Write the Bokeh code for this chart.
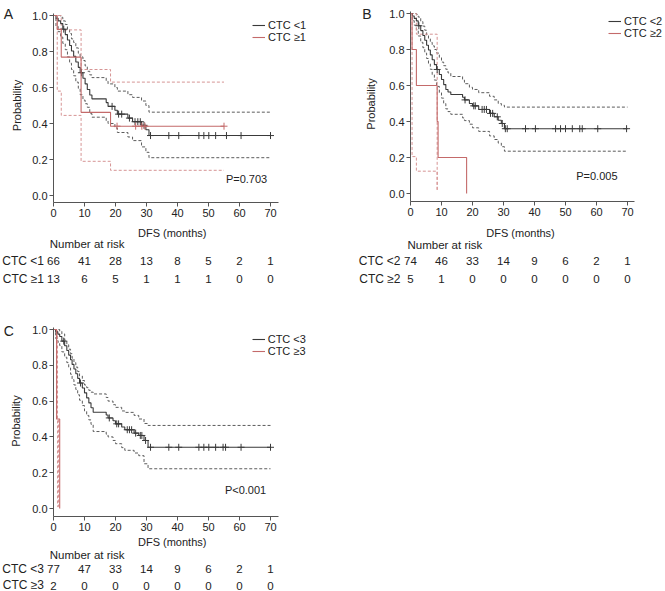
import math
import numpy as np
from bokeh.plotting import figure
from bokeh.models import Range1d, FixedTicker, PrintfTickFormatter, Label, Legend, LegendItem
from bokeh.layouts import column, row
from bokeh.embed import file_html
from bokeh.resources import INLINE
from bokeh.core.properties import value

FONT = "Liberation Sans"
BLACK = "#3a3a3a"
BLACK_CI = "#5c5c5c"
RED = "#c46a6a"
RED_CI = "#d69494"
AXIS = "#555555"
TEXT = "#222222"

MONTH_TICKS = [0, 10, 20, 30, 40, 50, 60, 70]
PROB_TICKS = [0.0, 0.2, 0.4, 0.6, 0.8, 1.0]

# ---------------- Panel A : CTC <1 vs CTC >=1 ----------------
A_lo_t = [0, 0.8, 1.5, 2.3, 3.0, 3.8, 4.5, 5.2, 5.8, 6.5, 7.2, 8.0, 8.6, 9.5, 10.2, 10.9,
          11.7, 12.4, 17.0, 17.6, 19.8, 20.6, 24.0, 25.5, 28.4, 29.8, 30.8]
A_lo_s = [1.0, 0.985, 0.97, 0.955, 0.924, 0.894, 0.864, 0.833, 0.803, 0.773, 0.742, 0.712,
          0.682, 0.651, 0.62, 0.589, 0.558, 0.537, 0.516, 0.495, 0.474, 0.452, 0.43, 0.41,
          0.39, 0.365, 0.333]
A_lo_upper = [1.0, 1.0, 1.0, 0.99, 0.97, 0.95, 0.92, 0.90, 0.87, 0.85, 0.82, 0.79, 0.77, 0.75,
              0.72, 0.69, 0.67, 0.655, 0.635, 0.62, 0.60, 0.58, 0.56, 0.545, 0.525, 0.50, 0.463]
A_lo_lower = [1.0, 0.94, 0.91, 0.88, 0.845, 0.81, 0.77, 0.735, 0.70, 0.665, 0.63, 0.595, 0.56,
              0.53, 0.51, 0.49, 0.455, 0.435, 0.415, 0.40, 0.375, 0.35, 0.325, 0.305, 0.27,
              0.24, 0.21]
A_lo_censor = [3.3, 9.0, 18.9, 21.0, 22.0, 24.5, 26.3, 27.2, 28.0, 29.2, 31.3, 37.2, 40.4,
               46.9, 48.5, 50.1, 52.3, 55.8, 60.5, 70.0]
A_lo_end = 70

A_hi_t = [0, 1.2, 2.5, 8.9, 18.4]
A_hi_s = [1.0, 0.923, 0.769, 0.462, 0.385]
A_hi_upper_t = [0, 2.5, 8.9, 18.4]
A_hi_upper = [1.0, 0.92, 0.70, 0.63]
A_hi_lower_t = [0, 1.2, 2.5, 8.9, 18.4]
A_hi_lower = [1.0, 0.58, 0.445, 0.19, 0.14]
A_hi_censor = [20.5, 26.5, 28.5, 29.5, 55.0]
A_hi_end = 55

A_groups = ["CTC <1", "CTC \u22651"]
A_risk_lo = [66, 41, 28, 13, 8, 5, 2, 1]
A_risk_hi = [13, 6, 5, 1, 1, 1, 0, 0]
A_p = "P=0.703"

# ---------------- Panel B : CTC <2 vs CTC >=2 ----------------
B_lo_t = [0, 0.6, 1.2, 1.9, 2.5, 3.3, 4.0, 4.6, 5.2, 5.8, 6.4, 7.0, 7.7, 8.4, 9.3, 10.0, 10.7,
          11.4, 12.1, 13.0, 16.8, 17.4, 19.0, 20.0, 22.0, 25.5, 27.0, 28.3, 29.3, 30.3]
B_lo_s = [1.0, 0.986, 0.973, 0.959, 0.932, 0.905, 0.878, 0.851, 0.824, 0.797, 0.77, 0.743,
          0.716, 0.689, 0.661, 0.633, 0.605, 0.578, 0.564, 0.55, 0.535, 0.52, 0.50, 0.487,
          0.467, 0.445, 0.426, 0.407, 0.389, 0.36]
B_lo_upper = [1.0, 1.0, 1.0, 0.995, 0.98, 0.955, 0.93, 0.907, 0.88, 0.86, 0.84, 0.82, 0.80,
              0.78, 0.755, 0.73, 0.71, 0.69, 0.67, 0.65, 0.63, 0.61, 0.59, 0.578, 0.56, 0.54,
              0.52, 0.50, 0.49, 0.48]
B_lo_lower = [1.0, 0.96, 0.935, 0.91, 0.875, 0.84, 0.81, 0.78, 0.75, 0.72, 0.69, 0.66, 0.63,
              0.595, 0.56, 0.53, 0.50, 0.47, 0.455, 0.44, 0.42, 0.405, 0.385, 0.365, 0.345,
              0.32, 0.30, 0.28, 0.26, 0.235]
B_lo_censor = [2.7, 8.6, 17.6, 20.4, 20.9, 23.1, 23.8, 24.5, 25.8, 26.5, 28.0, 29.6, 30.6,
               31.2, 37.1, 40.3, 46.8, 48.4, 50.0, 52.2, 54.6, 55.4, 60.4, 69.7]
B_lo_end = 70

B_hi_t = [0, 0.5, 1.9, 8.6, 8.9, 18.1]
B_hi_s = [1.0, 0.8, 0.6, 0.4, 0.2, 0.0]
B_hi_upper_t = [0, 1.9, 8.6]
B_hi_upper = [1.0, 0.885, 0.01]
B_hi_lower_t = [0, 0.5, 1.9, 8.6]
B_hi_lower = [1.0, 0.205, 0.124, 0.01]
B_hi_censor = []
B_hi_end = 18.1
B_hi_ci_end = 8.6

B_groups = ["CTC <2", "CTC \u22652"]
B_risk_lo = [74, 46, 33, 14, 9, 6, 2, 1]
B_risk_hi = [5, 1, 0, 0, 0, 0, 0, 0]
B_p = "P=0.005"

# ---------------- Panel C : CTC <3 vs CTC >=3 ----------------
C_lo_t = [0, 0.7, 1.4, 2.0, 2.7, 3.6, 4.3, 4.9, 5.5, 6.0, 6.6, 7.2, 7.8, 8.4, 9.3, 10.0, 10.7,
          11.4, 12.1, 12.8, 17.0, 17.6, 19.2, 20.0, 22.0, 23.0, 26.0, 27.5, 29.2, 30.5]
C_lo_s = [1.0, 0.987, 0.974, 0.961, 0.935, 0.909, 0.883, 0.857, 0.831, 0.805, 0.779, 0.753,
          0.727, 0.701, 0.673, 0.646, 0.618, 0.59, 0.563, 0.538, 0.522, 0.506, 0.49, 0.473,
          0.455, 0.44, 0.421, 0.408, 0.38, 0.342]
C_lo_upper = [1.0, 1.0, 1.0, 0.99, 0.975, 0.94, 0.915, 0.89, 0.865, 0.84, 0.815, 0.79, 0.765,
              0.74, 0.715, 0.69, 0.675, 0.66, 0.65, 0.64, 0.62, 0.60, 0.58, 0.565, 0.545,
              0.537, 0.52, 0.50, 0.475, 0.464]
C_lo_lower = [1.0, 0.95, 0.93, 0.91, 0.875, 0.845, 0.815, 0.785, 0.75, 0.72, 0.69, 0.665,
              0.635, 0.605, 0.575, 0.545, 0.52, 0.495, 0.47, 0.43, 0.415, 0.40, 0.38, 0.362,
              0.34, 0.325, 0.31, 0.295, 0.25, 0.222]
C_lo_censor = [3.3, 8.7, 18.0, 20.4, 21.0, 23.8, 24.5, 25.2, 26.5, 28.0, 28.5, 29.7, 31.3,
               37.2, 40.4, 46.9, 48.5, 50.1, 52.3, 54.7, 55.5, 60.5, 70.0]
C_lo_end = 70

C_hi_t = [0, 1.0, 2.0]
C_hi_s = [1.0, 0.5, 0.0]
C_hi_upper_t = [0, 1.0, 1.6]
C_hi_upper = [1.0, 0.5, 0.01]
C_hi_lower_t = [0, 1.3]
C_hi_lower = [1.0, 0.01]
C_hi_censor = []
C_hi_end = 2.0
C_hi_ci_end = 1.6

C_groups = ["CTC <3", "CTC \u22653"]
C_risk_lo = [77, 47, 33, 14, 9, 6, 2, 1]
C_risk_hi = [2, 0, 0, 0, 0, 0, 0, 0]
C_p = "P<0.001"

PX_PER_MONTH = 3.1
LEGEND_ROW_H = 13


def surv_at(t, s, c):
    t = np.asarray(t, dtype=float)
    s = np.asarray(s, dtype=float)
    idx = np.searchsorted(t, np.asarray(c, dtype=float), side="right") - 1
    return s[idx]


def step_xy(t, s, end):
    return list(t) + [end], list(s) + [s[-1]]


def base_fig(width, height, fx, fy):
    p = figure(width=width, height=height, x_range=Range1d(fx(0), fx(width)),
               y_range=Range1d(fy(height), fy(0)), output_backend="svg",
               toolbar_location=None, min_border=0, min_border_left=0, min_border_right=0,
               min_border_top=0, min_border_bottom=0, outline_line_color=None,
               background_fill_color="white", border_fill_color="white")
    p.grid.visible = False
    return p


def km_panel(width, height, geo, groups_data, labels, texts):
    x0, y1, y0, axis_y_px, axis_top_px, axis_right_px = geo
    ppy = y0 - y1
    fx = lambda px: (px - x0) / PX_PER_MONTH
    fy = lambda py: (y0 - py) / ppy
    p = base_fig(width, height, fx, fy)

    xa, ya = p.xaxis[0], p.yaxis[0]
    xa.fixed_location = fy(axis_y_px)
    xa.bounds = (0, fx(axis_right_px))
    ya.fixed_location = 0
    ya.bounds = (fy(axis_y_px), fy(axis_top_px))
    for ax in (xa, ya):
        ax.axis_line_color = AXIS
        ax.major_tick_line_color = AXIS
        ax.minor_tick_line_color = None
        ax.major_tick_out = 4
        ax.major_tick_in = 0
        ax.major_label_text_font = FONT
        ax.major_label_text_font_size = "11px"
        ax.major_label_text_color = TEXT
        ax.major_label_standoff = 2
    xa.ticker = FixedTicker(ticks=MONTH_TICKS)
    ya.ticker = FixedTicker(ticks=PROB_TICKS)
    ya.formatter = PrintfTickFormatter(format="%.1f")

    renderers = []
    for g in groups_data:
        ux, uy = step_xy(g["ut"], g["u"], g["ci_end"])
        lx, ly = step_xy(g["lt"], g["l"], g["ci_end"])
        p.step(ux, uy, mode="after", line_color=g["ci_color"], line_width=1, line_dash="3 2")
        p.step(lx, ly, mode="after", line_color=g["ci_color"], line_width=1, line_dash="3 2")
    for g in groups_data:
        sx, sy = step_xy(g["t"], g["s"], g["end"])
        r = p.step(sx, sy, mode="after", line_color=g["color"], line_width=1.1)
        renderers.append(r)
        if len(g["censor"]):
            cy = surv_at(g["t"], g["s"], g["censor"])
            p.scatter(g["censor"], cy, marker="cross", size=7, line_color=g["color"],
                      line_width=1)

    leg_x, leg_mid = texts["legend"]
    leg = Legend(items=[LegendItem(label=lab, renderers=[r]) for r, lab in zip(renderers, labels)],
                 location=(leg_x, height - (leg_mid + LEGEND_ROW_H)),
                 padding=0, margin=0, spacing=0, glyph_width=13, glyph_height=10,
                 label_height=10, label_standoff=3, label_text_font=FONT,
                 label_text_font_size="11px", label_text_color=TEXT,
                 background_fill_alpha=0, border_line_alpha=0)
    p.add_layout(leg)

    def lab(px, py, text, align="center", baseline="middle", size="11px", angle=0.0):
        p.add_layout(Label(x=fx(px), y=fy(py), text=text, text_align=align,
                           text_baseline=baseline, text_font=FONT, text_font_size=size,
                           text_color=TEXT, angle=angle))

    lab(*texts["p"], texts["p_text"], align="right")
    lab(*texts["dfs"], "DFS (months)")
    lab(*texts["prob"], "Probability", angle=math.pi / 2)
    lab(*texts["risk_title"], "Number at risk", align="left", size="11.5px")
    lab(*texts["letter"], texts["letter_text"], align="left", baseline="alphabetic",
        size="14px")
    return p


def risk_panel(width, height, x0, row_top_px, row_bot_px, label_right_px, labels, counts):
    gap = row_bot_px - row_top_px
    fx = lambda px: (px - x0) / PX_PER_MONTH
    fy = lambda py: (row_bot_px - py) / gap
    p = base_fig(width, height, fx, fy)
    p.xaxis.visible = False
    ax = p.yaxis[0]
    ax.fixed_location = fx(label_right_px)
    ax.ticker = FixedTicker(ticks=[0, 1])
    ax.major_label_overrides = {1: labels[0], 0: labels[1]}
    ax.axis_line_color = None
    ax.major_tick_line_color = None
    ax.minor_tick_line_color = None
    ax.major_tick_out = 0
    ax.major_tick_in = 0
    ax.major_label_standoff = 0
    ax.major_label_text_font = FONT
    ax.major_label_text_font_size = "12px"
    ax.major_label_text_color = TEXT
    for yv, cnt in zip([1, 0], counts):
        p.text(x=MONTH_TICKS, y=[yv] * len(MONTH_TICKS), text=[str(c) for c in cnt],
               text_align="center", text_baseline="middle", text_font=value(FONT),
               text_font_size="11.5px", text_color=TEXT)
    return p


def groups(lo_t, lo_s, lo_u, lo_l, lo_c, lo_end, hi_t, hi_s, hi_ut, hi_u, hi_lt, hi_l, hi_c,
           hi_end, hi_ci_end):
    return [
        dict(t=lo_t, s=lo_s, ut=lo_t, u=lo_u, lt=lo_t, l=lo_l, censor=lo_c, end=lo_end,
             ci_end=lo_end, color=BLACK, ci_color=BLACK_CI),
        dict(t=hi_t, s=hi_s, ut=hi_ut, u=hi_u, lt=hi_lt, l=hi_l, censor=hi_c, end=hi_end,
             ci_end=hi_ci_end, color=RED, ci_color=RED_CI),
    ]


gA = groups(A_lo_t, A_lo_s, A_lo_upper, A_lo_lower, A_lo_censor, A_lo_end,
            A_hi_t, A_hi_s, A_hi_upper_t, A_hi_upper, A_hi_lower_t, A_hi_lower, A_hi_censor,
            A_hi_end, A_hi_end)
gB = groups(B_lo_t, B_lo_s, B_lo_upper, B_lo_lower, B_lo_censor, B_lo_end,
            B_hi_t, B_hi_s, B_hi_upper_t, B_hi_upper, B_hi_lower_t, B_hi_lower, B_hi_censor,
            B_hi_end, B_hi_ci_end)
gC = groups(C_lo_t, C_lo_s, C_lo_upper, C_lo_lower, C_lo_censor, C_lo_end,
            C_hi_t, C_hi_s, C_hi_upper_t, C_hi_upper, C_hi_lower_t, C_hi_lower, C_hi_censor,
            C_hi_end, C_hi_ci_end)

# geometry (canvas pixels): x of month 0, y of 1.0, y of 0.0, x-axis y, y-axis top, x-axis end
pA = km_panel(330, 252, (53, 15, 195, 202, 13, 278), gA, A_groups,
              dict(legend=(252, 29.5), p=(266.7, 178), p_text=A_p,
                   dfs=(171.7, 232), prob=(16.7, 105), risk_title=(49.3, 243.5),
                   letter=(3.3, 13.3), letter_text="A"))
rA = risk_panel(330, 48, 53, 8, 26, 43.5, A_groups, [A_risk_lo, A_risk_hi])

pB = km_panel(335, 252, (80, 13, 193, 201, 11, 304), gB, B_groups,
              dict(legend=(278, 25.9), p=(287, 175), p_text=B_p,
                   dfs=(190, 232), prob=(40, 103.5), risk_title=(77, 244),
                   letter=(31.7, 13.3), letter_text="B"))
rB = risk_panel(335, 48, 80, 8, 26, 70, B_groups, [B_risk_lo, B_risk_hi])

pC = km_panel(330, 261, (53, 29, 208, 216, 27, 278), gC, C_groups,
              dict(legend=(251.7, 44.2), p=(265.7, 189.3), p_text=C_p,
                   dfs=(171.7, 241.7), prob=(15.5, 120.5), risk_title=(49.3, 254),
                   letter=(3.3, 30.7), letter_text="C"))
rC = risk_panel(330, 30, 53, 7, 24, 43.5, C_groups, [C_risk_lo, C_risk_hi])

layout = column(row(column(pA, rA), column(pB, rB)), column(pC, rC))

with open("out.html", "w") as f:
    f.write(file_html(layout, INLINE))
